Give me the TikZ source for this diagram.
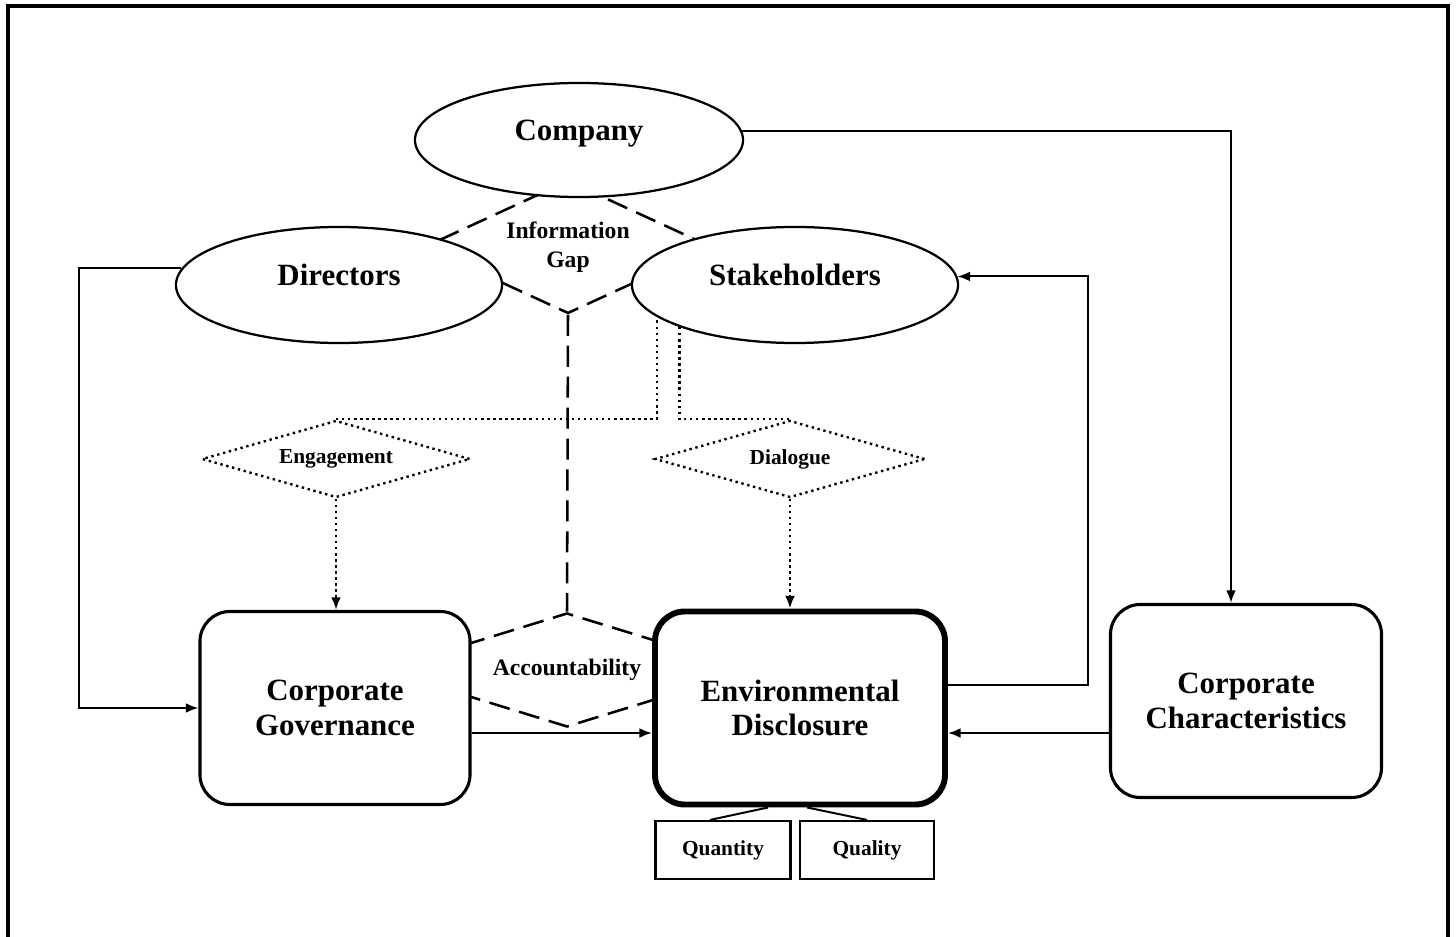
\documentclass[tikz,border=0pt]{standalone}
\usepackage{fontspec}
\setmainfont{Liberation Serif}
\usetikzlibrary{positioning}
\usetikzlibrary{shapes.geometric}
\usetikzlibrary{arrows.meta}

\tikzset{
  ellip/.style={ellipse,draw,fill=white,line width=1.6pt,inner sep=0pt,text depth=0.5cm,font=\bfseries\fontsize{22}{24}\selectfont},
  roundbox/.style={rectangle,rounded corners=0.75cm,draw,fill=white,line width=2.2pt,align=center,minimum height=4.825cm,font=\bfseries\fontsize{22}{24.5}\selectfont},
  gapdiamond/.style={diamond,draw,line width=1.8pt,dash pattern=on 15pt off 7pt,inner sep=0pt,align=center,font=\bfseries\fontsize{16.8}{20.5}\selectfont},
  talkdiamond/.style={diamond,draw,line width=1.7pt,dash pattern=on 1.7pt off 2.6pt,inner sep=0pt,aspect=3.5,font=\bfseries\fontsize{15.2}{18}\selectfont},
  smallbox/.style={rectangle,draw,line width=1.5pt,minimum height=1.45cm,font=\bfseries\fontsize{15.2}{18}\selectfont},
  link/.style={line width=1.4pt},
  dotlink/.style={line width=1.7pt,dash pattern=on 1.7pt off 2.6pt},
  >={Latex[length=9pt,width=7pt]}
}

\begin{document}
\begin{tikzpicture}[x=0.025cm,y=-0.025cm]
  \useasboundingbox (0,0) rectangle (1456,937);
  \clip (0,0) rectangle (1456,937);
  \draw[line width=2.6pt] (8,6) rectangle (1448,960);

  \node[gapdiamond,aspect=2.2,minimum width=7.2cm,minimum height=3.325cm] (gap) at (568,247) {Information\\Gap};
  \node[gapdiamond,aspect=3.2,minimum width=9.2cm,minimum height=2.85cm] (acc) at (567,670) {Accountability};
  \draw[link,line width=1.8pt,dash pattern=on 15pt off 7pt] (gap.south) -- (acc.north);

  \node[ellip,minimum width=8.2cm,minimum height=2.85cm] (company) at (579,140) {Company};
  \node[ellip,minimum width=8.15cm,minimum height=2.9cm] (directors) at (339,285) {Directors};
  \node[ellip,minimum width=8.15cm,minimum height=2.9cm] (stake) at (795,285) {Stakeholders};

  \node[talkdiamond,minimum width=6.7cm,minimum height=1.925cm] (eng) at (336,459) {Engagement};
  \node[talkdiamond,minimum width=6.75cm,minimum height=1.925cm] (dia) at (790,459) {Dialogue};

  \node[roundbox,minimum width=6.75cm] (gov) at (335,708) {Corporate\\Governance};
  \node[roundbox,minimum width=7.25cm,line width=4.2pt] (env) at (800,708) {Environmental\\Disclosure};
  \node[roundbox,minimum width=6.775cm] (chr) at (1246,701) {Corporate\\Characteristics};

  \node[smallbox,minimum width=3.375cm] (qn) at (723,850) {Quantity};
  \node[smallbox,minimum width=3.35cm] (ql) at (867,850) {Quality};

  \coordinate (lft) at (79,0);
  \coordinate (rgt) at (1088,0);
  \coordinate (cn) at ([xshift=-0.375cm]chr.north);
  \coordinate (ge) at ([yshift=-0.625cm]gov.east);
  \coordinate (ce) at ([yshift=-0.8cm]chr.west);
  \coordinate (ee) at ([yshift=0.575cm]env.east);

  \draw[link,->] (company.3) -| (cn);
  \draw[link,->] (directors.174) -| (lft |- gov.west) -- (gov.west);
  \draw[link,->] (ge) -- (ge -| env.west);
  \draw[link,->] (ce) -- (ce -| env.east);
  \draw[link,->] (ee) -| (rgt |- stake.3) -- (stake.3);

  \draw[dotlink] (eng.north) -| (stake.193);
  \draw[dotlink] (stake.200) |- (dia.north);
  \draw[dotlink,->] (eng.south) -- (eng.south |- gov.north);
  \draw[dotlink,->] (dia.south) -- (dia.south |- env.north);

  \draw[link] ([xshift=-0.8cm]env.south) -- ([xshift=-0.325cm]qn.north);
  \draw[link] ([xshift=0.175cm]env.south) -- (ql.north);
\end{tikzpicture}
\end{document}
